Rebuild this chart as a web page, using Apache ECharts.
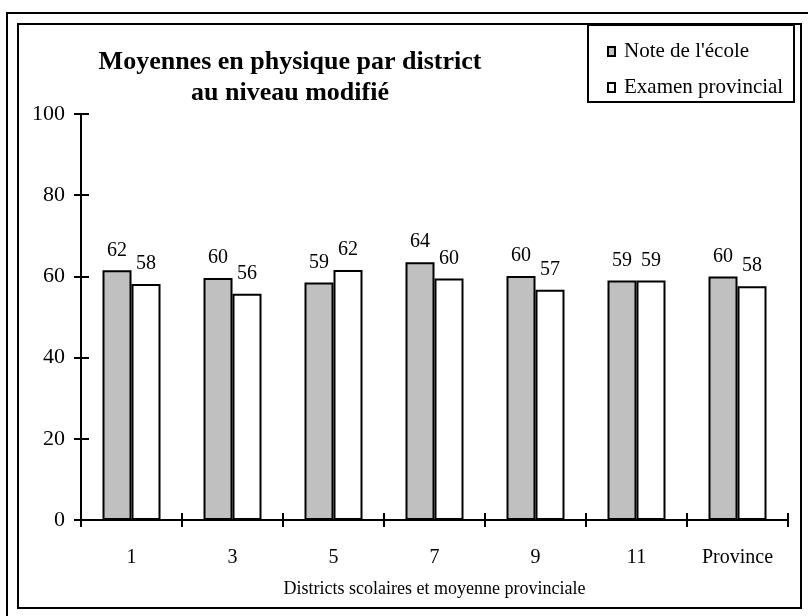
<!DOCTYPE html>
<html>
<head>
<meta charset="utf-8">
<script src="https://cdn.jsdelivr.net/npm/echarts@6/dist/echarts.min.js"></script>
<style>
html,body{margin:0;padding:0;background:#fff;}
#chart{width:808px;height:616px;}
</style>
</head>
<body>
<div id="chart"></div>
<script>
const categories = ['1', '3', '5', '7', '9', '11', 'Province'];
const schoolValues = [61.5, 59.6, 58.5, 63.5, 60.1, 59.0, 60.0];
const schoolLabels = [62, 60, 59, 64, 60, 59, 60];
const examValues = [58.1, 55.7, 61.6, 59.5, 56.7, 59.0, 57.6];
const examLabels = [58, 56, 62, 60, 57, 59, 58];
const seriesNames = ["Note de l'école", 'Examen provincial'];
const titleLines = ['Moyennes en physique par district', 'au niveau modifié'];
const xAxisTitle = 'Districts scolaires et moyenne provinciale';

const FONT = '"Liberation Serif", "Times New Roman", serif';
const chart = echarts.init(document.getElementById('chart'), null, {renderer: 'canvas'});

function mkLabel(labels) {
  return {
    show: true, position: 'top', distance: 10,
    fontFamily: FONT, fontSize: 20, color: '#000',
    formatter: p => String(labels[p.dataIndex])
  };
}

const option = {
  backgroundColor: '#fff',
  animation: false,
  textStyle: {fontFamily: FONT, color: '#000'},
  title: {
    text: titleLines.join('\n'),
    left: 285, top: 42, textAlign: 'center',
    textStyle: {fontFamily: FONT, fontSize: 26, fontWeight: 'bold', color: '#000', lineHeight: 31}
  },
  legend: {
    orient: 'vertical', left: 602, top: 36,
    itemWidth: 7, itemHeight: 9, itemGap: 15,
    icon: 'rect',
    textStyle: {fontFamily: FONT, fontSize: 21, color: '#000', padding: [0,0,0,4]},
    data: seriesNames
  },
  graphic: [
    {type: 'rect', shape: {x: 7, y: 13, width: 900, height: 700}, style: {fill: 'none', stroke: '#000', lineWidth: 2}, z: 100},
    {type: 'rect', shape: {x: 18, y: 24, width: 783, height: 584}, style: {fill: 'none', stroke: '#000', lineWidth: 2}, z: 100},
    {type: 'rect', shape: {x: 588, y: 25, width: 206, height: 77}, style: {fill: 'none', stroke: '#000', lineWidth: 2}, z: 100}
  ],
  grid: {left: 81, right: 20, top: 114, bottom: 96, containLabel: false},
  xAxis: [{
    type: 'category', data: categories,
    axisLine: {lineStyle: {color: '#000', width: 2}},
    axisTick: {show: true, length: 7, lineStyle: {color: '#000', width: 2}},
    axisLabel: {margin: 28, fontFamily: FONT, fontSize: 20, color: '#000'},
    name: xAxisTitle, nameLocation: 'middle', nameGap: 69, nameMoveOverlap: false,
    nameTextStyle: {fontFamily: FONT, fontSize: 18, color: '#000', verticalAlign: 'middle'}
  }, {
    type: 'category', data: categories, position: 'bottom',
    axisLine: {show: false},
    axisTick: {show: true, inside: true, length: 7, lineStyle: {color: '#000', width: 2}},
    axisLabel: {show: false}
  }],
  yAxis: [{
    type: 'value', min: 0, max: 100, interval: 20,
    axisLine: {show: true, lineStyle: {color: '#000', width: 2}},
    axisTick: {show: true, length: 7, lineStyle: {color: '#000', width: 2}},
    axisLabel: {margin: 16, fontFamily: FONT, fontSize: 22, color: '#000'},
    splitLine: {show: false}
  }, {
    type: 'value', min: 0, max: 100, interval: 20, position: 'left',
    axisLine: {show: false},
    axisTick: {show: true, inside: true, length: 8, lineStyle: {color: '#000', width: 2}},
    axisLabel: {show: false},
    splitLine: {show: false}
  }],
  series: [{
    name: seriesNames[0], type: 'bar', data: schoolValues,
    barWidth: 29, barGap: '0%',
    itemStyle: {color: '#c0c0c0', borderColor: '#000', borderWidth: 2},
    label: mkLabel(schoolLabels)
  }, {
    name: seriesNames[1], type: 'bar', data: examValues,
    barWidth: 29, barGap: '0%',
    itemStyle: {color: '#fff', borderColor: '#000', borderWidth: 2},
    label: mkLabel(examLabels)
  }]
};
chart.setOption(option);
</script>
</body>
</html>
